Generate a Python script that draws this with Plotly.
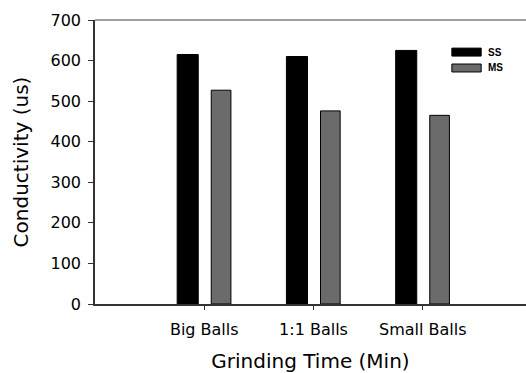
import plotly.graph_objects as go

categories = ["Big Balls", "1:1 Balls", "Small Balls"]
series_names = ["SS", "MS"]
ss_values = [615, 610, 625]
ms_values = [527, 476, 465]
y_ticks = [0, 100, 200, 300, 400, 500, 600, 700]

FONT = "DejaVu Sans"
W, H = 526, 373
L, R, T, B = 95, 0, 20, 69

fig = go.Figure()
fig.add_trace(go.Bar(x=categories, y=ss_values, name=series_names[0],
                     width=0.193, offset=-0.248,
                     marker=dict(color="#000000", line=dict(color="#000000", width=1))))
fig.add_trace(go.Bar(x=categories, y=ms_values, name=series_names[1],
                     width=0.18, offset=0.064,
                     marker=dict(color="#6b6b6b", line=dict(color="#000000", width=1))))

fig.update_layout(
    width=W, height=H,
    margin=dict(l=L, r=R, t=T, b=B, autoexpand=False),
    paper_bgcolor="white", plot_bgcolor="white",
    showlegend=False,
    font=dict(family=FONT, color="#000000"),
    xaxis=dict(range=[-1, 2.945], showline=True, linecolor="#333333", linewidth=1.5,
               ticks="outside", ticklen=4, tickcolor="#333333",
               tickfont=dict(size=16, family=FONT), ticklabelstandoff=6,
               title=dict(text="Grinding Time (Min)", font=dict(size=20, family=FONT), standoff=19),
               showgrid=False, zeroline=False),
    yaxis=dict(range=[0, 700], tickvals=y_ticks, showline=True, linecolor="#333333", linewidth=1.5,
               ticks="outside", ticklen=5, tickcolor="#333333",
               tickfont=dict(size=16, family=FONT), ticklabelstandoff=4,
               title=dict(text="Conductivity (us)", font=dict(size=20, family=FONT), standoff=17),
               showgrid=False, zeroline=False),
)

# top frame line
fig.add_shape(type="line", xref="paper", yref="paper", x0=0, x1=1, y0=1, y1=1,
              line=dict(color="#808080", width=1.5))

# custom legend
leg_colors = ["#000000", "#6b6b6b"]
leg_y = [(0.901, 0.873), (0.845, 0.817)]
for name, col, (ya, yb) in zip(series_names, leg_colors, leg_y):
    fig.add_shape(type="rect", xref="paper", yref="paper", x0=0.828, x1=0.896, y0=yb, y1=ya,
                  fillcolor=col, line=dict(color="#000000", width=1))
    fig.add_annotation(xref="paper", yref="paper", x=0.908, y=(ya + yb) / 2, text="<b>%s</b>" % name,
                       showarrow=False, xanchor="left", yanchor="middle",
                       font=dict(size=10, family="Liberation Sans", color="#000000"))

fig.write_html("out.html", config={"displayModeBar": False},
               post_script="document.body.style.margin='0px';document.body.style.overflow='hidden';")
